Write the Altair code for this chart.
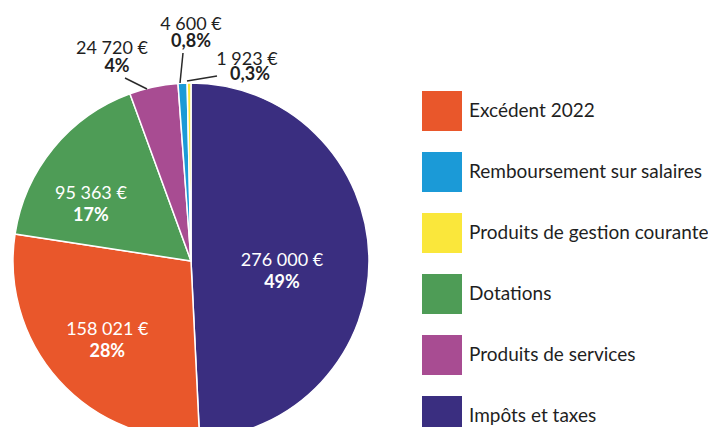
import altair as alt
import pandas as pd

categories = ["Impôts et taxes", "Excédent 2022", "Dotations", "Produits de services",
              "Remboursement sur salaires", "Produits de gestion courante"]
amounts = [276000, 158021, 95363, 24720, 4600, 1923]
amount_labels = ["276 000 €", "158 021 €", "95 363 €", "24 720 €", "4 600 €", "1 923 €"]
percent_labels = ["49%", "28%", "17%", "4%", "0,8%", "0,3%"]
label_inside = [True, True, True, False, False, False]

legend_order = ["Excédent 2022", "Remboursement sur salaires", "Produits de gestion courante",
                "Dotations", "Produits de services", "Impôts et taxes"]
legend_colors = ["#E9572B", "#1B9AD7", "#FAE73B", "#4E9C56", "#A84C92", "#3A2E80"]

FONT = "Lato"
CX, CY, R = 183, 253, 178

df = pd.DataFrame({
    "cat": categories,
    "amount": amounts,
    "slice_order": list(range(len(categories))),
    "amt": amount_labels,
    "pct": percent_labels,
})

base = alt.Chart(df).encode(
    theta=alt.Theta("amount:Q", stack=True),
    order=alt.Order("slice_order:Q"),
    x=alt.value(CX),
    y=alt.value(CY),
)

pie = base.mark_arc(outerRadius=R, stroke="white", strokeWidth=1.5).encode(
    color=alt.Color(
        "cat:N",
        scale=alt.Scale(domain=legend_order, range=legend_colors),
        legend=alt.Legend(
            title=None, orient="none", legendX=414, legendY=83,
            symbolType="square", symbolSize=1600, symbolStrokeWidth=0,
            symbolOpacity=1, labelFont=FONT, labelFontSize=19,
            labelColor="#1f1f1f", labelOffset=7, rowPadding=21, labelLimit=300,
            padding=0,
        ),
    )
)

# inside labels: one pair of layers per slice, nudged like the reference
inside_nudge = {0: (-19, 14), 1: (-2, 6), 2: (-15, 14)}
inside_layers = []
for i, (ndx, ndy) in inside_nudge.items():
    cat = categories[i].replace("'", "\\'")
    lay = base.transform_calculate(
        t_amt=f"datum.cat == '{cat}' ? datum.amt : ''",
        t_pct=f"datum.cat == '{cat}' ? datum.pct : ''",
    )
    inside_layers.append(
        lay.mark_text(radius=110, dx=ndx, dy=ndy - 11, font=FONT, fontSize=18,
                      color="white").encode(text="t_amt:N"))
    inside_layers.append(
        lay.mark_text(radius=110, dx=ndx, dy=ndy + 11, font=FONT, fontSize=18,
                      fontWeight="bold", color="white").encode(text="t_pct:N"))

# outside labels (annotations) for the three thin slices
out_idx = [i for i, v in enumerate(label_inside) if not v]
out_df = pd.DataFrame({
    "amt": [amount_labels[i] for i in out_idx],
    "pct": [percent_labels[i] for i in out_idx],
    "ax": [104, 183, 239], "ay": [41, 16.5, 52],
    "px": [109, 183, 242], "py": [59, 34, 67],
    "lx": [117, 175, 209], "ly": [70, 45, 68],
    "lx2": [139, 172, 179], "ly2": [81, 75, 73],
})
ob = alt.Chart(out_df)
out_amt = ob.mark_text(font=FONT, fontSize=18, color="#1f1f1f").encode(
    x=alt.X("ax:Q", scale=None), y=alt.Y("ay:Q", scale=None), text="amt:N")
out_pct = ob.mark_text(font=FONT, fontSize=18, fontWeight="bold", color="#1f1f1f").encode(
    x=alt.X("px:Q", scale=None), y=alt.Y("py:Q", scale=None), text="pct:N")
leaders = ob.mark_rule(color="#2a2a2a", strokeWidth=1.5).encode(
    x=alt.X("lx:Q", scale=None), y=alt.Y("ly:Q", scale=None),
    x2="lx2:Q", y2="ly2:Q")

chart = alt.layer(pie, *inside_layers, leaders, out_amt, out_pct).properties(
    width=700, height=419,
    autosize=alt.AutoSizeParams(type="none"),
    padding=0,
).configure_view(stroke=None)

chart.save("out.html", embed_options={"renderer": "svg", "actions": False})
